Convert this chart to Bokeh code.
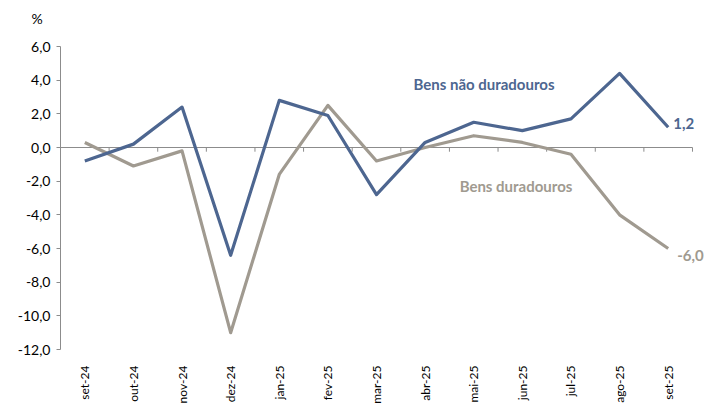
import math
from bokeh.plotting import figure
from bokeh.models import FixedTicker, Label, ColumnDataSource
from bokeh.embed import file_html
from bokeh.resources import INLINE

months = ["set-24", "out-24", "nov-24", "dez-24", "jan-25", "fev-25", "mar-25",
          "abr-25", "mai-25", "jun-25", "jul-25", "ago-25", "set-25"]
nao_duradouros = [-0.8, 0.2, 2.4, -6.4, 2.8, 1.9, -2.8, 0.3, 1.5, 1.0, 1.7, 4.4, 1.2]
duradouros = [0.3, -1.1, -0.2, -11.0, -1.6, 2.5, -0.8, 0.0, 0.7, 0.3, -0.4, -4.0, -6.0]
y_ticks = [6, 4, 2, 0, -2, -4, -6, -8, -10, -12]

BLUE = "#4d6690"
GRAY = "#a09a90"
AXIS = "#8c8c8c"
FONT = "Lato"

n = len(months)
xs = [i + 0.5 for i in range(n)]

# frame extends 13px past the last category so end labels are not clipped
p = figure(frame_width=645, frame_height=303, output_backend="svg", toolbar_location=None,
           x_range=(0, n + 13 / 48.615), y_range=(-12, 6),
           min_border_left=60, min_border_right=0, min_border_top=46, min_border_bottom=54)
p.outline_line_color = None
p.xgrid.visible = False
p.ygrid.visible = False
p.background_fill_color = "white"

# unit label "%" at top-left (second empty line lifts it above the frame)
p.title.text = "%\n"
p.title.align = "left"
p.title.vertical_align = "bottom"
p.title.offset = -29
p.title.standoff = 6
p.title.text_font = FONT
p.title.text_font_size = "14px"
p.title.text_font_style = "normal"
p.title.text_color = "#000000"

# x axis (labels only)
p.xaxis.ticker = FixedTicker(ticks=xs)
p.xaxis.major_label_overrides = {x: m for x, m in zip(xs, months)}
p.xaxis.major_label_orientation = math.pi / 2
p.xaxis.axis_line_color = None
p.xaxis.major_tick_line_color = None
p.xaxis.minor_tick_line_color = None
p.xaxis.major_label_standoff = 10
p.xaxis.major_label_text_font = FONT
p.xaxis.major_label_text_font_size = "12px"
p.xaxis.major_label_text_color = "#000000"

# y axis
p.yaxis.ticker = FixedTicker(ticks=y_ticks)
p.yaxis.major_label_overrides = {t: f"{t:.1f}".replace(".", ",") for t in y_ticks}
p.yaxis.axis_line_color = AXIS
p.yaxis.major_tick_line_color = AXIS
p.yaxis.major_tick_out = 4
p.yaxis.major_tick_in = 0
p.yaxis.minor_tick_line_color = None
p.yaxis.major_label_standoff = 6
p.yaxis.major_label_text_font = FONT
p.yaxis.major_label_text_font_size = "14px"
p.yaxis.major_label_text_color = "#000000"

# zero line with category tick marks
p.segment(x0=[0], y0=[0], x1=[n], y1=[0], line_color=AXIS, line_width=1)
bounds = list(range(1, n + 1))
p.segment(x0=bounds, y0=[0] * len(bounds), x1=bounds, y1=[-0.25] * len(bounds),
          line_color=AXIS, line_width=1)

src = ColumnDataSource(dict(x=xs, a=nao_duradouros, b=duradouros))
p.line("x", "b", source=src, line_color=GRAY, line_width=3.2, line_join="round")
p.line("x", "a", source=src, line_color=BLUE, line_width=3.2, line_join="round")

def lab(x, y, text, color, size="15px", **kw):
    p.add_layout(Label(x=x, y=y, text=text, text_color=color, text_font=FONT,
                       text_font_style="bold", text_font_size=size, **kw))

lab(7.26, 3.8, "Bens não duradouros", BLUE, text_baseline="middle")
lab(8.21, -2.26, "Bens duradouros", GRAY, text_baseline="middle")
lab(xs[-1], nao_duradouros[-1], "1,2", BLUE, x_offset=5, y_offset=4, text_baseline="middle")
lab(xs[-1], duradouros[-1], "-6,0", GRAY, x_offset=9, y_offset=-7, text_baseline="middle")

open("out.html", "w").write(file_html(p, INLINE))
